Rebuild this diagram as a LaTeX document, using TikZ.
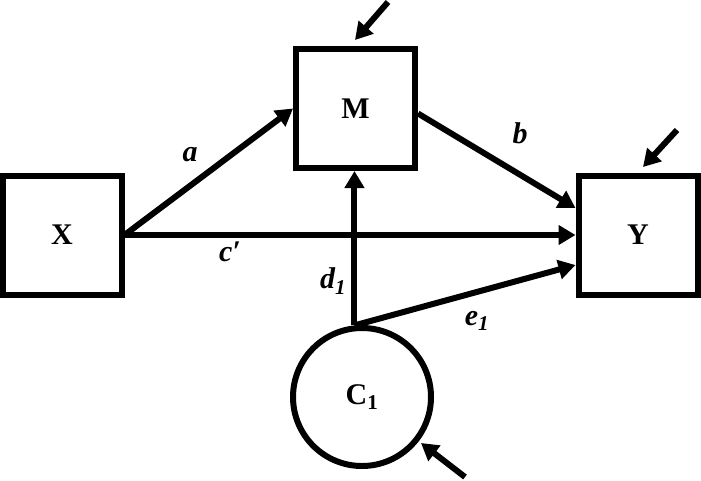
\documentclass[tikz,border=0pt]{standalone}
\usepackage{fontspec}
\setmainfont{Liberation Serif}
\usetikzlibrary{arrows.meta}
\begin{document}
\begin{tikzpicture}[x=1pt,y=-1pt,
  var/.style={draw, line width=6pt, inner sep=0pt, minimum size=119pt, font=\fontsize{30}{32}\selectfont\bfseries},
  lat/.style={draw, circle, line width=6pt, inner sep=0pt, minimum size=138pt, font=\fontsize{30}{32}\selectfont\bfseries},
  path/.style={line width=6pt, -{Triangle[length=17pt,width=19pt]}},
  lab/.style={font=\fontsize{30}{32}\selectfont\bfseries\itshape, inner sep=0pt}]
\useasboundingbox (0,0) rectangle (701,480);
\node[var] (X) at (62,235) {X};
\node[var] (M) at (355.5,108.5) {M};
\node[var] (Y) at (638,235) {Y};
\node[lat] (C) at (362,397) {C\textsubscript{1}};
\coordinate (Yb) at ([yshift=27pt]Y.west);
\coordinate (Yd) at ([yshift=-30pt]Y.west);
\draw[path] (X.east) -- (M.west);
\draw[path] ([yshift=-5pt]M.east) -- (Yb);
\draw[path] (X.east) -- (Y.west);
\draw[path] (C.96) -- (C.96 |- M.south);
\draw[path] (C.96) -- (Yd);
\coordinate (eMt) at (388,2);
\coordinate (eMh) at (355,40);
\coordinate (eYt) at (677,130);
\coordinate (eYh) at (643,167);
\coordinate (eCt) at (465,477);
\coordinate (eCh) at (421,443);
\draw[path] (eMt) -- (eMh);
\draw[path] (eYt) -- (eYh);
\draw[path] (eCt) -- (eCh);
\node[lab] (la) at (190,155) {a};
\node[lab] (lb) at (520,133) {b};
\node[lab] (lc) at (230,252) {c′};
\node[lab] (ld) at (333,281) {d\textsubscript{1}};
\node[lab] (le) at (477,321) {e\textsubscript{1}};
\end{tikzpicture}
\end{document}
